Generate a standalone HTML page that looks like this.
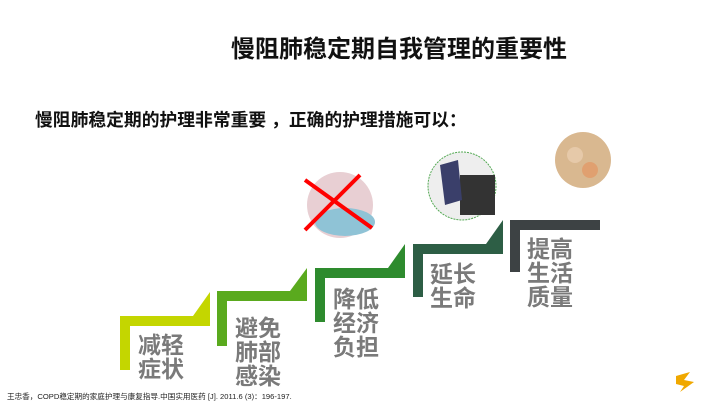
<!DOCTYPE html>
<html><head><meta charset="utf-8"><style>
body{margin:0;width:720px;height:405px;background:#fff;position:relative;overflow:hidden;font-family:"Liberation Sans","Noto Sans CJK SC",sans-serif}
.t{position:absolute;white-space:nowrap}
.s{position:absolute;color:#7a7a7a;font-weight:bold;font-size:23px;line-height:24px}
</style></head><body>
<div class="t" style="left:231px;top:29px;font-size:24px;font-weight:bold;color:#111">慢阻肺稳定期自我管理的重要性</div>
<div class="t" style="left:35px;top:106px;font-size:17.8px;font-weight:bold;color:#111">慢阻肺稳定期的护理非常重要 ，正确的护理措施可以：</div>
<svg width="720" height="405" style="position:absolute;left:0;top:0">
<g fill="#c4d600"><rect x="120" y="316" width="90" height="10"/><rect x="120" y="316" width="10" height="54"/><polygon points="193,316 210,316 210,292"/></g>
<g fill="#5aaa1e"><rect x="217" y="291" width="90" height="10"/><rect x="217" y="291" width="10" height="55"/><polygon points="290,291 307,291 307,268"/></g>
<g fill="#2e8b2e"><rect x="315" y="268" width="90" height="10"/><rect x="315" y="268" width="10" height="54"/><polygon points="388,268 405,268 405,244"/></g>
<g fill="#2d5e45"><rect x="413" y="244" width="90" height="10"/><rect x="413" y="244" width="10" height="53"/><polygon points="486,244 503,244 503,220"/></g>
<g fill="#3d4244"><rect x="510" y="220" width="90" height="10"/><rect x="510" y="220" width="10" height="52"/></g>
<circle cx="340" cy="205" r="33" fill="#e8cfd3"/><ellipse cx="345" cy="222" rx="30" ry="14" fill="#8fc3d6"/>
<line x1="305" y1="180" x2="372" y2="228" stroke="#f00" stroke-width="4"/><line x1="360" y1="175" x2="305" y2="230" stroke="#f00" stroke-width="4"/>
<circle cx="462" cy="186" r="34" fill="#eee" stroke="#5a5" stroke-width="1" stroke-dasharray="2,1"/>
<rect x="460" y="175" width="35" height="40" fill="#333"/><path d="M440 165 L458 160 L462 200 L445 205Z" fill="#3a3f6a"/>
<circle cx="583" cy="160" r="28" fill="#d9b890"/><circle cx="575" cy="155" r="8" fill="#e6c9a9"/><circle cx="590" cy="170" r="8" fill="#e0a070"/>
<path d="M676 376 l14 -4 -6 8 10 2 -14 10 4 -6 -8 -2z" fill="#f0a800"/>
</svg>
<div class="s" style="left:138px;top:333px">减轻<br>症状</div>
<div class="s" style="left:235px;top:316px">避免<br>肺部<br>感染</div>
<div class="s" style="left:333px;top:287px">降低<br>经济<br>负担</div>
<div class="s" style="left:430px;top:262px">延长<br>生命</div>
<div class="s" style="left:527px;top:237px">提高<br>生活<br>质量</div>
<div class="t" style="left:7px;top:391px;font-size:7.6px;color:#222">王忠香，COPD稳定期的家庭护理与康复指导.中国实用医药 [J]. 2011.6 (3)：196-197.</div>
</body></html>
